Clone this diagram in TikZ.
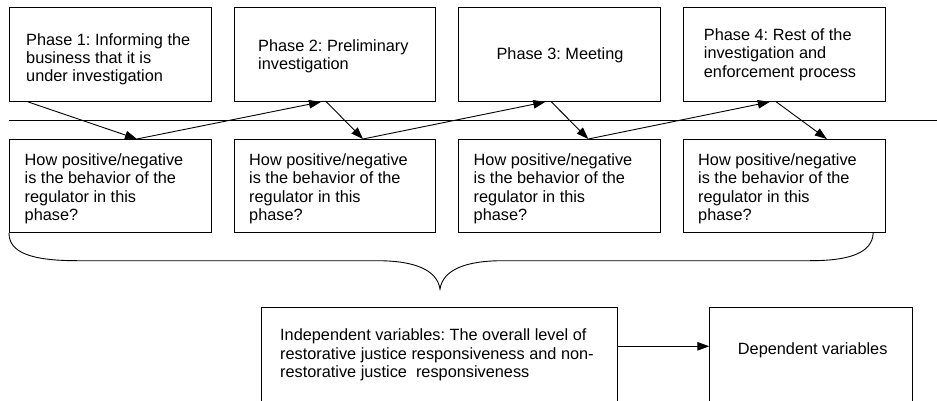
\documentclass[tikz,border=0pt]{standalone}
\usepackage{fontspec}
\setmainfont{Liberation Sans}
\usetikzlibrary{arrows.meta,calc}
\newcommand\myst{\rule{0pt}{13pt}}
\frenchspacing
\begin{document}
\begin{tikzpicture}[x=1pt,y=-1pt,
  box/.style={draw, line width=0.9pt, inner sep=0pt, anchor=north west, minimum width=201.5pt},
  topbox/.style={box, minimum height=93.7pt},
  botbox/.style={box, minimum height=93.3pt},
  txt/.style={inner sep=0pt, align=left, anchor=north west, font=\fontsize{16.3}{18.4}\selectfont},
  ctxt/.style={inner sep=0pt, anchor=base, font=\fontsize{16.3}{18.4}\selectfont},
  arr/.style={line width=0.9pt, -{Triangle[length=12pt,width=8.5pt]}},
  ln/.style={line width=0.9pt}
]
\useasboundingbox (0,0) rectangle (937,401);
\clip (0,0) rectangle (937,401);

% top phase boxes
\node[topbox] (p1) at (9,7.3) {};
\node[topbox] (p2) at (233.5,7.3) {};
\node[topbox] (p3) at (458.3,7.3) {};
\node[topbox] (p4) at (683.3,7.3) {};
\node[txt] (t1) at (26,32) {\myst Phase 1: Informing the\\business that it is\\under investigation};
\node[txt] (t2) at (258,38.3) {\myst Phase 2: Preliminary\\investigation};
\node[ctxt] (t3) at (560,59.3) {Phase 3: Meeting};
\node[txt] (t4) at (703.7,27.3) {\myst Phase 4: Rest of the\\investigation and\\enforcement process};

% horizontal line
\coordinate (hl1) at (9,120);
\coordinate (hl2) at (937,120);
\draw[ln] (hl1) -- (hl2);

% bottom question boxes
\node[botbox] (q1) at (9,139) {};
\node[botbox] (q2) at (233.5,139) {};
\node[botbox] (q3) at (458.3,139) {};
\node[botbox] (q4) at (683.3,139) {};
\foreach \i/\x in {1/24.5,2/249,3/473.5,4/698}{
  \node[txt] (u\i) at (\x,152) {\myst How positive/negative\\is the behavior of the\\regulator in this\\phase?};
}

% zig-zag arrows
\draw[arr] ($(p1.south west)+(19,0)$) -- ($(q1.north west)+(128,0)$);
\draw[arr] ($(q1.north west)+(128,0)$) -- ($(p2.south west)+(87.5,0)$);
\draw[arr] ($(p2.south west)+(93,0)$) -- ($(q2.north west)+(129.5,0)$);
\draw[arr] ($(q2.north west)+(129.5,0)$) -- ($(p3.south west)+(87,0)$);
\draw[arr] ($(p3.south west)+(93,0)$) -- ($(q3.north west)+(130,0)$);
\draw[arr] ($(q3.north west)+(130,0)$) -- ($(p4.south west)+(86.5,0)$);
\draw[arr] ($(p4.south west)+(93,0)$) -- ($(q4.north west)+(143.5,0)$);

% brace
\coordinate (bl) at (q1.south west);
\coordinate (br) at ($(q4.south east)+(-12.5,0)$);
\coordinate (tip) at (440,289);
\draw[ln] (bl) .. controls (9,252) and (30,260.7) .. (77,260.7) -- (377,260.7)
  .. controls (415,260.7) and (437,270) .. (tip)
  .. controls (443,270) and (465,260.7) .. (503,260.7) -- (810,260.7)
  .. controls (852,260.7) and (872,252) .. (br);

% variable boxes
\node[box, minimum width=356pt, minimum height=130pt] (iv) at (260.7,307.3) {};
\node[box, minimum width=202.4pt, minimum height=130pt] (dv) at (709.3,307.3) {};
\node[txt] (ivt) at (280,327.7) {\myst Independent variables: The overall level of\\restorative justice responsiveness and non-\\restorative justice\ \ responsiveness};
\node[ctxt] (dvt) at (812.7,354) {Dependent variables};
\draw[arr] ($(iv.north east)+(0,39)$) -- ($(dv.north west)+(0,39)$);
\end{tikzpicture}
\end{document}
